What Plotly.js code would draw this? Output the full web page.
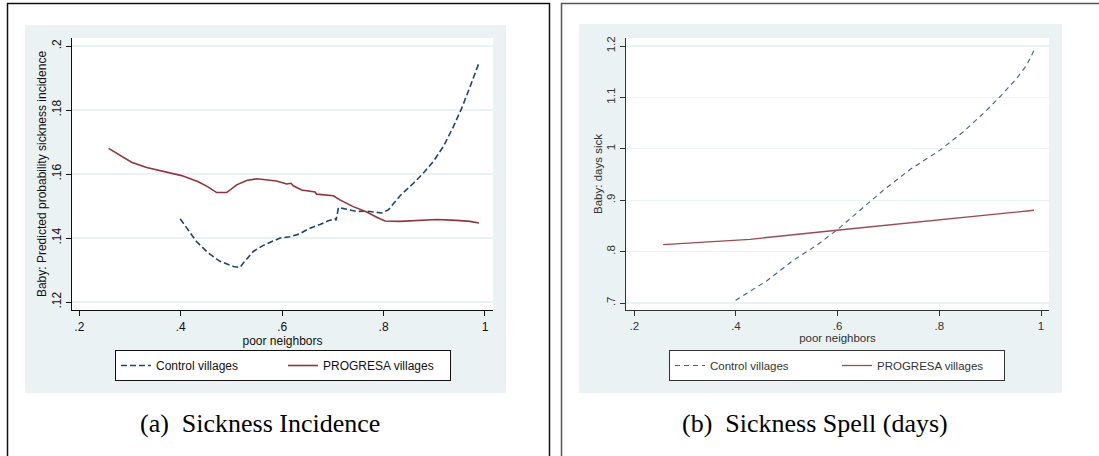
<!DOCTYPE html>
<html>
<head>
<meta charset="utf-8">
<script src="https://cdn.plot.ly/plotly-3.0.1.min.js"></script>
<style>
  html, body { margin: 0; padding: 0; background: #ffffff; }
  #chart { width: 1099px; height: 456px; }
</style>
</head>
<body>
<div id="chart"></div>
<script>
// ---------- Data ----------
// Panel (a): Sickness Incidence
const incControlX = [0.399, 0.431, 0.4545, 0.4775, 0.504, 0.517, 0.5235, 0.543, 0.563, 0.596, 0.6155, 0.635, 0.652, 0.6747, 0.691, 0.7043, 0.7063, 0.711, 0.7273, 0.747, 0.767, 0.7963, 0.8095, 0.8325, 0.8588, 0.878, 0.898, 0.918, 0.9377, 0.954, 0.9706, 0.989];
const incControlY = [0.146, 0.1389, 0.1353, 0.1327, 0.1311, 0.1308, 0.1322, 0.1358, 0.1377, 0.1400, 0.1404, 0.1413, 0.1429, 0.1442, 0.1454, 0.1460, 0.1455, 0.1495, 0.1490, 0.1483, 0.1484, 0.1478, 0.1488, 0.1532, 0.1571, 0.1602, 0.1639, 0.1686, 0.1748, 0.1805, 0.1873, 0.1951];
const incProgX = [0.2579, 0.280, 0.303, 0.3328, 0.3657, 0.4018, 0.4347, 0.4545, 0.4709, 0.4906, 0.5103, 0.530, 0.5497, 0.5695, 0.589, 0.609, 0.6175, 0.622, 0.6385, 0.6648, 0.668, 0.701, 0.714, 0.740, 0.767, 0.7865, 0.803, 0.8325, 0.865, 0.905, 0.9443, 0.9706, 0.988];
const incProgY = [0.1680, 0.1660, 0.1637, 0.1620, 0.1608, 0.1595, 0.1576, 0.1559, 0.1542, 0.1542, 0.1566, 0.1580, 0.1585, 0.1582, 0.1578, 0.1569, 0.1571, 0.1563, 0.1550, 0.1544, 0.1537, 0.1532, 0.1519, 0.1498, 0.1481, 0.1465, 0.1453, 0.1452, 0.1455, 0.1458, 0.1455, 0.1452, 0.1447];

// Panel (b): Sickness Spell (days)
const spellControlX = [0.3993, 0.4603, 0.5128, 0.5587, 0.598, 0.644, 0.690, 0.7423, 0.8013, 0.8472, 0.8866, 0.9193, 0.9521, 0.9718, 0.9882];
const spellControlY = [0.7052, 0.7429, 0.7831, 0.8123, 0.8416, 0.8805, 0.9195, 0.9597, 0.9974, 1.0331, 1.0688, 1.1013, 1.1370, 1.1630, 1.1955];
const spellProgX = [0.257, 0.4275, 0.598, 0.8013, 0.9862];
const spellProgY = [0.8136, 0.8240, 0.8416, 0.8623, 0.8805];

// Tick labels
const xTickVals = [0.2, 0.4, 0.6, 0.8, 1];
const xTickText = [".2", ".4", ".6", ".8", "1"];
const incTickVals = [0.12, 0.14, 0.16, 0.18, 0.2];
const incTickText = [".12", ".14", ".16", ".18", ".2"];
const spellTickVals = [0.7, 0.8, 0.9, 1.0, 1.1, 1.2];
const spellTickText = [".7", ".8", ".9", "1", "1.1", "1.2"];

const seriesNames = ["Control villages", "PROGRESA villages"];
const captions = ["(a)\u00a0\u00a0Sickness Incidence", "(b)\u00a0\u00a0Sickness Spell (days)"];
const yTitles = ["Baby: Predicted probability sickness incidence", "Baby: days sick"];
const xTitle = "poor neighbors";

// ---------- Layout helpers ----------
const W = 1099, H = 456;
const px = v => v / W;
const py = v => 1 - v / H;
const BLUE = "#1a476f", RED = "#90353b", BG = "#eaf2f3";
const SANS = "Liberation Sans, Arial, sans-serif";
const SERIF = "Liberation Serif, Times New Roman, serif";

const traces = [
  { x: incControlX, y: incControlY, xaxis: "x", yaxis: "y", mode: "lines", name: seriesNames[0], legend: "legend",
    line: { color: BLUE, width: 1.6, dash: "6px,3px" } },
  { x: incProgX, y: incProgY, xaxis: "x", yaxis: "y", mode: "lines", name: seriesNames[1], legend: "legend",
    line: { color: RED, width: 1.6 } },
  { x: spellControlX, y: spellControlY, xaxis: "x2", yaxis: "y2", mode: "lines", name: seriesNames[0], legend: "legend2",
    line: { color: "#3d6489", width: 1.1, dash: "5px,4px" } },
  { x: spellProgX, y: spellProgY, xaxis: "x2", yaxis: "y2", mode: "lines", name: seriesNames[1], legend: "legend2",
    line: { color: "#9a4a50", width: 1.3 } }
];

function xAxis(domain, range, anchor, fs, col) {
  return {
    domain: domain, range: range, anchor: anchor, tickmode: "array", tickvals: xTickVals, ticktext: xTickText,
    ticks: "outside", ticklen: 5, tickwidth: 1, tickcolor: col, showline: true, linecolor: col, linewidth: 1.3,
    showgrid: false, zeroline: false, tickfont: { family: SANS, size: fs, color: col },
    title: { text: xTitle, font: { family: SANS, size: fs, color: col }, standoff: 1 }
  };
}
function yAxis(domain, range, anchor, tv, tt, title, fs, col) {
  return {
    domain: domain, range: range, anchor: anchor, tickmode: "array", tickvals: tv, ticktext: tt, tickangle: -90,
    ticks: "outside", ticklen: 5, tickwidth: 1, tickcolor: col, showline: true, linecolor: col, linewidth: 1.3,
    showgrid: true, gridcolor: BG, gridwidth: 1.2, zeroline: false, tickfont: { family: SANS, size: fs, color: col },
    title: { text: title, font: { family: SANS, size: fs, color: col }, standoff: 0 }
  };
}

const yDom = [146 / H, 418 / H];

const layout = {
  width: W, height: H,
  margin: { l: 0, r: 0, t: 0, b: 0 },
  paper_bgcolor: "#ffffff", plot_bgcolor: "#ffffff",
  showlegend: true,
  xaxis: xAxis([px(72), px(493)], [0.1856, 1.0158], "y", 12, "#111111"),
  yaxis: yAxis(yDom, [0.1175, 0.2025], "x", incTickVals, incTickText, yTitles[0], 12, "#111111"),
  xaxis2: xAxis([px(626), px(1049)], [0.1837, 1.0157], "y2", 11.5, "#333333"),
  yaxis2: yAxis(yDom, [0.6864, 1.2156], "x2", spellTickVals, spellTickText, yTitles[1], 11.5, "#333333"),
  legend: {
    orientation: "h", x: px(115), xanchor: "left", y: py(350), yanchor: "top",
    bgcolor: "#ffffff", bordercolor: "#111111", borderwidth: 1,
    font: { family: SANS, size: 12, color: "#111111" }, entrywidth: 122, entrywidthmode: "pixels",
    tracegroupgap: 0
  },
  legend2: {
    orientation: "h", x: px(669), xanchor: "left", y: py(350), yanchor: "top",
    bgcolor: "#ffffff", bordercolor: "#333333", borderwidth: 1,
    font: { family: SANS, size: 11.5, color: "#333333" }, entrywidth: 122, entrywidthmode: "pixels",
    tracegroupgap: 0
  },
  shapes: [
    // graph regions
    { type: "rect", xref: "paper", yref: "paper", x0: px(25), x1: px(506), y0: py(393), y1: py(25), fillcolor: BG, line: { width: 0 }, layer: "below" },
    { type: "rect", xref: "paper", yref: "paper", x0: px(579), x1: px(1062), y0: py(393), y1: py(24), fillcolor: BG, line: { width: 0 }, layer: "below" },
    // plot regions
    { type: "rect", xref: "paper", yref: "paper", x0: px(72), x1: px(493), y0: py(310), y1: py(38), fillcolor: "#ffffff", line: { width: 0 }, layer: "below" },
    { type: "rect", xref: "paper", yref: "paper", x0: px(626), x1: px(1049), y0: py(310), y1: py(38), fillcolor: "#ffffff", line: { width: 0 }, layer: "below" },
    // figure boxes
    { type: "path", xref: "paper", yref: "paper", path: `M ${px(7.5)},${py(460)} L ${px(7.5)},${py(3.5)} L ${px(549.5)},${py(3.5)} L ${px(549.5)},${py(460)}`, line: { color: "#111111", width: 1.5 } },
    { type: "path", xref: "paper", yref: "paper", path: `M ${px(561.5)},${py(460)} L ${px(561.5)},${py(3.5)} L ${px(1105)},${py(3.5)}`, line: { color: "#555555", width: 1.5 } }
  ],
  annotations: [
    { xref: "paper", yref: "paper", x: px(260), y: py(423), xanchor: "center", yanchor: "middle", showarrow: false,
      text: captions[0], font: { family: SERIF, size: 26, color: "#000000" } },
    { xref: "paper", yref: "paper", x: px(815), y: py(423), xanchor: "center", yanchor: "middle", showarrow: false,
      text: captions[1], font: { family: SERIF, size: 26, color: "#000000" } }
  ]
};

Plotly.newPlot("chart", traces, layout, { displayModeBar: false, staticPlot: true });
</script>
</body>
</html>
